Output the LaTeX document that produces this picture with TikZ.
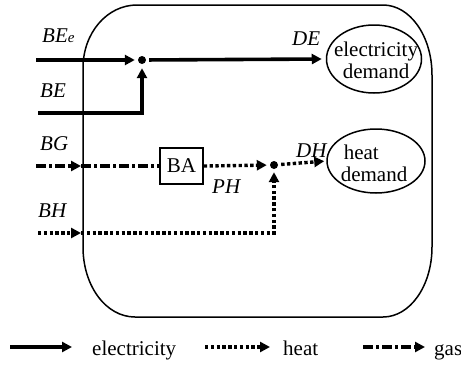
\documentclass[tikz,border=0pt]{standalone}
\usepackage{fontspec}
\setmainfont{Liberation Serif}
\usetikzlibrary{arrows.meta,shapes.geometric}
\begin{document}
\begin{tikzpicture}[x=1pt,y=-1pt,
  font=\fontsize{21}{24}\selectfont,
  tipa/.style={-{Triangle[length=10pt,width=10pt]}},
  elec/.style={line width=3.6pt},
  heatl/.style={line width=3.4pt, dash pattern=on 3.4pt off 2.4pt},
  gasl/.style={line width=3.8pt, dash pattern=on 10pt off 3pt on 3pt off 3pt},
  dem/.style={ellipse, draw, line width=1.5pt, inner sep=0pt},
  demtxt/.style={inner sep=0pt},
  lbl/.style={anchor=base west, font=\fontsize{21}{24}\selectfont\itshape, inner sep=0pt},
  txt/.style={anchor=base west, inner sep=0pt},
  junc/.style={circle, fill, inner sep=0pt, minimum size=8pt},
  boxn/.style={draw, line width=1.5pt, minimum width=43pt, minimum height=36pt, inner sep=0pt},
]
\useasboundingbox (0,0) rectangle (461,367);

% boundary
\draw[line width=1.5pt] (83,247) -- (83,68)
  .. controls (83,33) and (107,5) .. (137,5) -- (383,5)
  .. controls (410,5) and (432,36) .. (432,75) -- (432,247)
  .. controls (432,286) and (410,317) .. (383,317) -- (135,317)
  .. controls (106,317) and (83,286) .. (83,247) -- cycle;

% nodes
\node[junc] (J1) at (142,60) {};
\node[junc] (J2) at (274,165) {};
\node[boxn] (BA) at (181.5,166) {BA};
\node[dem, minimum width=95pt, minimum height=68pt] (DE) at (374,59) {};
\node[demtxt, align=center] (DEt) at (376,60) {electricity\\[-2pt]demand};
\node[dem, minimum width=98pt, minimum height=64pt] (DH) at (376,161) {};
\node[demtxt, align=left] (DHt) at (374,163) {\hspace*{3pt}heat\\[-2pt]demand};

% coordinates
\coordinate (bee) at (36,60);
\coordinate (be) at (38,113);
\coordinate (becorner) at (142,113);
\coordinate (bg) at (36,166);
\coordinate (bgin) at (81,166);
\coordinate (bh) at (38,233);
\coordinate (bhin) at (81,233);
\coordinate (bhcorner) at (274,233);

% electricity
\draw[elec,tipa,shorten >=3pt] (bee) -- (J1);
\draw[elec,tipa,shorten >=4pt] (be) -- (becorner) -- (J1);
\draw[elec,tipa,shorten <=3pt,shorten >=4pt] (J1) -- (DE.west);

% gas
\draw[gasl,tipa] (bg) -- (bgin);
\draw[gasl] (bgin) -- (BA.west);

% heat
\draw[heatl,tipa,shorten >=3pt] (BA.east) -- (J2);
\draw[heatl,tipa,shorten <=3pt,shorten >=2pt] (J2) -- (DH.west);
\draw[heatl,tipa] (bh) -- (bhin);
\draw[heatl,tipa,shorten >=3pt] (bhin) -- (bhcorner) -- (J2);

% labels
\node[lbl] (lBEe) at (42,42) {BE{\fontsize{15}{15}\selectfont e}};
\node[lbl] (lBE) at (40,97) {BE};
\node[lbl] (lBG) at (40,150) {BG};
\node[lbl] (lBH) at (38,217) {BH};
\node[lbl] (lDE) at (292,45) {DE};
\node[lbl] (lDH) at (296,157) {DH};
\node[lbl] (lPH) at (212,193) {PH};

% legend
\coordinate (l1a) at (10,347);
\coordinate (l1b) at (72,347);
\coordinate (l2a) at (205,347);
\coordinate (l2b) at (270,347);
\coordinate (l3a) at (363,347);
\coordinate (l3b) at (425,347);
\draw[elec,tipa] (l1a) -- (l1b);
\draw[heatl,tipa] (l2a) -- (l2b);
\draw[gasl,tipa] (l3a) -- (l3b);
\node[txt] (te) at (92,355) {electricity};
\node[txt] (th) at (283,355) {heat};
\node[txt] (tg) at (434,355) {gas};
\end{tikzpicture}
\end{document}
